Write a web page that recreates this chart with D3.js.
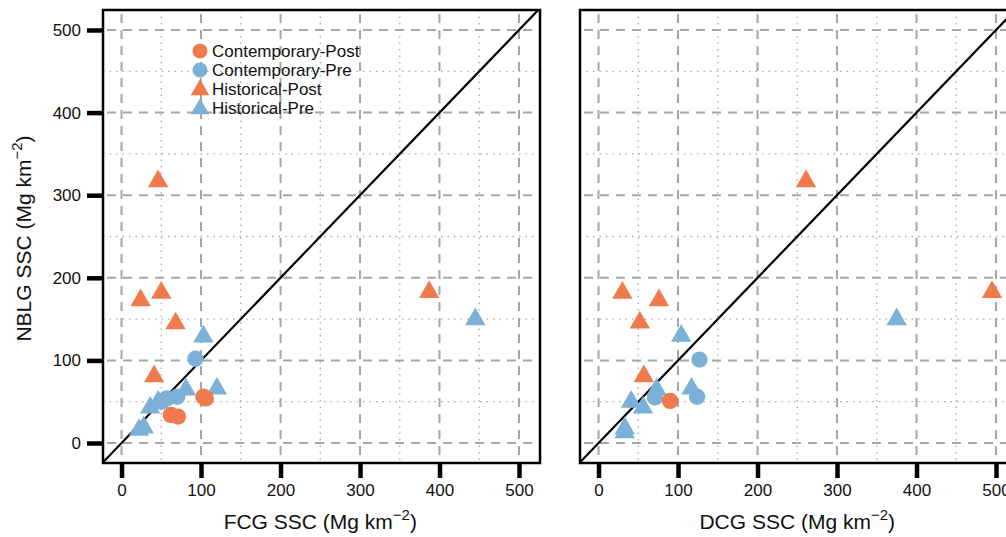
<!DOCTYPE html>
<html>
<head>
<meta charset="utf-8">
<script src="https://cdn.jsdelivr.net/npm/d3@7"></script>
<style>
  html, body { margin: 0; padding: 0; background: #fff; overflow: hidden; }
  text { font-family: "Liberation Sans", Arial, sans-serif; fill: #111; }
</style>
</head>
<body>
<svg id="chart" width="1006" height="537"></svg>
<script>
// couleurs des groupes
const ORANGE = "#ef7a4b";
const BLUE = "#7db0d6";

const tickValues = [0, 100, 200, 300, 400, 500];
const minorValues = [50, 150, 250, 350, 450];

const legendLabels = ["Contemporary-Post", "Contemporary-Pre", "Historical-Post", "Historical-Pre"];

// panneau gauche : FCG (x) vs NBLG (y)
const fcgHistPre = [[445, 151], [103, 130], [120, 67], [81, 66], [36, 44], [46, 51], [28, 20], [22, 17]];
const fcgHistPost = [[46, 318], [24, 174], [50, 183], [68, 146], [41, 82], [387, 184]];
const fcgContPre = [[93, 102], [57, 54], [70, 56], [50, 50]];
const fcgContPost = [[106, 54], [103, 56], [62, 34], [71, 32]];

// panneau droit : DCG (x) vs NBLG (y)
const dcgHistPre = [[375, 151], [104, 131], [117, 67], [73, 66], [41, 51], [56, 44], [33, 19], [33, 14]];
const dcgHistPost = [[261, 318], [30, 183], [76, 174], [52, 147], [57, 82], [495, 184]];
const dcgContPre = [[127, 101], [124, 56], [71, 55]];
const dcgContPost = [[90, 51]];

const svg = d3.select("#chart");
const boxW = 437, boxH = 453, boxTop = 10;

function titleText(t, prefix) {
    t.append("tspan").text(prefix + " SSC (Mg km");
    t.append("tspan").attr("dy", -9).attr("font-size", 15).text("\u22122");
    t.append("tspan").attr("dy", 9).text(")");
}

function drawPanel(left, xTitle, showY, series, clipId) {
    const x = d3.scaleLinear().domain([-23.3, 526.4]).range([left, left + boxW]);
    const y = d3.scaleLinear().domain([-24.2, 524.2]).range([boxTop + boxH, boxTop]);
    const g = svg.append("g");

    g.append("clipPath").attr("id", clipId).append("rect")
        .attr("x", left).attr("y", boxTop).attr("width", boxW).attr("height", boxH);
    const inner = g.append("g").attr("clip-path", `url(#${clipId})`);

    // grille : pointillés mineurs puis tirets majeurs
    inner.selectAll(".vminor").data(minorValues).join("line")
        .attr("x1", d => x(d)).attr("x2", d => x(d)).attr("y1", boxTop).attr("y2", boxTop + boxH)
        .attr("stroke", "#aaa").attr("stroke-width", 1.3).attr("stroke-dasharray", "1.5 5");
    inner.selectAll(".hminor").data(minorValues).join("line")
        .attr("y1", d => y(d)).attr("y2", d => y(d)).attr("x1", left).attr("x2", left + boxW)
        .attr("stroke", "#aaa").attr("stroke-width", 1.3).attr("stroke-dasharray", "1.5 5");
    inner.selectAll(".vmajor").data(tickValues).join("line")
        .attr("x1", d => x(d)).attr("x2", d => x(d)).attr("y1", boxTop + 4).attr("y2", boxTop + boxH)
        .attr("stroke", "#a6a6a6").attr("stroke-width", 2).attr("stroke-dasharray", "9 7");
    inner.selectAll(".hmajor").data(tickValues).join("line")
        .attr("y1", d => y(d)).attr("y2", d => y(d)).attr("x1", left + 4).attr("x2", left + boxW)
        .attr("stroke", "#a6a6a6").attr("stroke-width", 2).attr("stroke-dasharray", "9 7");

    // droite 1:1
    inner.append("line")
        .attr("x1", x(-30)).attr("y1", y(-30)).attr("x2", x(540)).attr("y2", y(540))
        .attr("stroke", "#000").attr("stroke-width", 2.2);

    const tri = d3.symbol().type(d3.symbolTriangle).size(180);
    const circ = d3.symbol().type(d3.symbolCircle).size(210);
    series.forEach(s => {
        inner.selectAll(null).data(s.data).join("path")
            .attr("d", s.shape === "tri" ? tri : circ)
            .attr("transform", d => `translate(${x(d[0])},${y(d[1]) + (s.shape === "tri" ? 1 : 0)})`)
            .attr("fill", s.color);
    });

    // cadre
    g.append("rect").attr("x", left).attr("y", boxTop).attr("width", boxW).attr("height", boxH)
        .attr("fill", "none").attr("stroke", "#000").attr("stroke-width", 2.5);

    // axe x
    const xAxis = g.append("g").attr("transform", `translate(0,${boxTop + boxH})`)
        .call(d3.axisBottom(x).tickValues(tickValues).tickSize(15).tickPadding(6).tickFormat(d3.format("d")));
    xAxis.select(".domain").remove();
    xAxis.selectAll(".tick line").attr("stroke", "#000").attr("stroke-width", 4.5);
    xAxis.selectAll(".tick text").attr("font-size", 17).attr("font-family", "Liberation Sans, Arial, sans-serif").attr("fill", "#111");

    g.append("text").attr("x", x(250)).attr("y", 529).attr("text-anchor", "middle")
        .attr("font-size", 21)
        .call(t => titleText(t, xTitle));

    if (showY) {
        const yAxis = g.append("g").attr("transform", `translate(${left},0)`)
            .call(d3.axisLeft(y).tickValues(tickValues).tickSize(16).tickPadding(6).tickFormat(d3.format("d")));
        yAxis.select(".domain").remove();
        yAxis.selectAll(".tick line").attr("stroke", "#000").attr("stroke-width", 4.5);
        yAxis.selectAll(".tick text").attr("font-size", 17).attr("font-family", "Liberation Sans, Arial, sans-serif").attr("fill", "#111");

        g.append("text").attr("transform", `translate(31,${y(250) + 2}) rotate(-90)`).attr("text-anchor", "middle")
            .attr("font-size", 21)
            .call(t => titleText(t, "NBLG"));
    }
    return { x, y, g };
}

drawPanel(103, "FCG", true, [
    { data: fcgHistPre, shape: "tri", color: BLUE },
    { data: fcgHistPost, shape: "tri", color: ORANGE },
    { data: fcgContPre, shape: "circ", color: BLUE },
    { data: fcgContPost, shape: "circ", color: ORANGE }
], "clipL");

drawPanel(580, "DCG", false, [
    { data: dcgHistPre, shape: "tri", color: BLUE },
    { data: dcgHistPost, shape: "tri", color: ORANGE },
    { data: dcgContPre, shape: "circ", color: BLUE },
    { data: dcgContPost, shape: "circ", color: ORANGE }
], "clipR");

// légende
const legendShapes = ["circ", "circ", "tri", "tri"];
const legendColors = [ORANGE, BLUE, ORANGE, BLUE];
const legend = svg.append("g").attr("transform", "translate(200,51)");
legendLabels.forEach((lab, i) => {
    const row = legend.append("g").attr("transform", `translate(0,${i * 19})`);
    row.append("path")
        .attr("d", d3.symbol().type(legendShapes[i] === "tri" ? d3.symbolTriangle : d3.symbolCircle).size(legendShapes[i] === "tri" ? 150 : 180)())
        .attr("transform", legendShapes[i] === "tri" ? "translate(0,1)" : null)
        .attr("fill", legendColors[i]);
    row.append("text").attr("x", 12).attr("y", 6).attr("font-size", 17).text(lab);
});
</script>
</body>
</html>
